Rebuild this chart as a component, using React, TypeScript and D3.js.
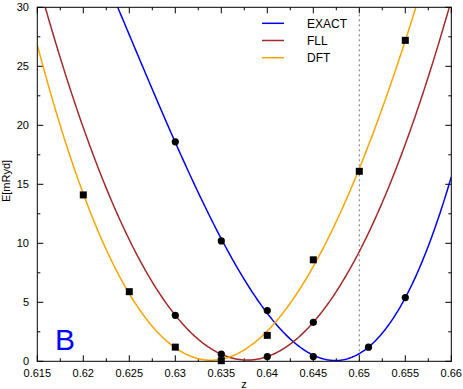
import React from "react";
import * as d3 from "d3";

const zExact = [0.63, 0.635, 0.64, 0.645, 0.651, 0.655];
const eExact = [18.6, 10.2, 4.3, 0.4, 1.2, 5.4];
const zFll = [0.63, 0.635, 0.64, 0.645];
const eFll = [3.9, 0.6, 0.4, 3.3];
const zDft = [0.62, 0.625, 0.63, 0.635, 0.64, 0.645, 0.65, 0.655];
const eDft = [14.1, 5.9, 1.2, 0.05, 2.2, 8.6, 16.1, 27.2];

const xTicks = [0.615, 0.62, 0.625, 0.63, 0.635, 0.64, 0.645, 0.65, 0.655, 0.66];
const xTickLabels = ["0.615", "0.62", "0.625", "0.63", "0.635", "0.64", "0.645", "0.65", "0.655", "0.66"];
const yTicks = [0, 5, 10, 15, 20, 25, 30];
const yTickLabels = ["0", "5", "10", "15", "20", "25", "30"];
const seriesNames = ["EXACT", "FLL", "DFT"];
const seriesColors = ["#0000ff", "#a52a2a", "#ffa500"];
const fitDegrees = [3, 2, 3];
const dashedZ = 0.65;

const W = 463, H = 389;
const L = 37.3, R = 451.3, T = 7.3, B = 361.3;

function polyfit(xs: number[], ys: number[], deg: number) {
  const c = 0.64, s = 100;
  const n = deg + 1;
  const A: number[][] = Array.from({ length: n }, () => new Array(n + 1).fill(0));
  xs.forEach((x0, k) => {
    const x = (x0 - c) * s;
    for (let i = 0; i < n; i++) {
      for (let j = 0; j < n; j++) A[i][j] += Math.pow(x, i + j);
      A[i][n] += Math.pow(x, i) * ys[k];
    }
  });
  for (let i = 0; i < n; i++) {
    let p = i;
    for (let r = i + 1; r < n; r++) if (Math.abs(A[r][i]) > Math.abs(A[p][i])) p = r;
    [A[i], A[p]] = [A[p], A[i]];
    for (let r = 0; r < n; r++) {
      if (r === i) continue;
      const f = A[r][i] / A[i][i];
      for (let col = i; col <= n; col++) A[r][col] -= f * A[i][col];
    }
  }
  const coef = A.map((row, i) => row[n] / row[i]);
  return (x0: number) => {
    const x = (x0 - c) * s;
    return coef.reduce((acc, a, i) => acc + a * Math.pow(x, i), 0);
  };
}

export default function App() {
  const x = d3.scaleLinear().domain([0.615, 0.66]).range([L, R]);
  const y = d3.scaleLinear().domain([0, 30]).range([B, T]);
  const data = [
    { z: zExact, e: eExact, marker: "circle" },
    { z: zFll, e: eFll, marker: "circle" },
    { z: zDft, e: eDft, marker: "square" },
  ];
  const samples = d3.range(0, 401).map((i) => 0.615 + (0.045 * i) / 400);
  const line = d3
    .line<[number, number]>()
    .x((d) => x(d[0]))
    .y((d) => y(d[1]));

  const minorX = d3.range(0, 19).map((i) => 0.615 + i * 0.0025);
  const minorY = d3.range(0, 13).map((i) => i * 2.5);
  const font = "'Liberation Sans', Arial, sans-serif";

  return (
    <div style={{ position: "absolute", left: 0, top: 0 }}>
      <svg width={W} height={H} style={{ display: "block", background: "#fff" }}>
        <defs>
          <clipPath id="plot">
            <rect x={L} y={T} width={R - L} height={B - T} />
          </clipPath>
        </defs>
        {/* dashed line */}
        <line x1={x(dashedZ)} x2={x(dashedZ)} y1={y(0)} y2={y(30)} stroke="#777" strokeWidth={1} strokeDasharray="2,3" />
        {/* ticks */}
        {minorX.map((v, i) => {
          const major = i % 2 === 0;
          const len = major ? 6 : 3;
          return (
            <g key={"tx" + i}>
              <line x1={x(v)} x2={x(v)} y1={B} y2={B - len} stroke="#000" />
              <line x1={x(v)} x2={x(v)} y1={T} y2={T + len} stroke="#000" />
            </g>
          );
        })}
        {minorY.map((v, i) => {
          const major = i % 2 === 0;
          const len = major ? 6 : 3;
          return (
            <g key={"ty" + i}>
              <line x1={L} x2={L + len} y1={y(v)} y2={y(v)} stroke="#000" />
              <line x1={R} x2={R - len} y1={y(v)} y2={y(v)} stroke="#000" />
            </g>
          );
        })}
        {/* curves */}
        <g clipPath="url(#plot)">
          {data.map((d, i) => {
            const f = polyfit(d.z, d.e, fitDegrees[i]);
            const pts = samples.map((z) => [z, Math.min(60, f(z))] as [number, number]);
            return <path key={"c" + i} d={line(pts) || ""} fill="none" stroke={seriesColors[i]} strokeWidth={1.5} />;
          })}
        </g>
        {/* markers */}
        {data.map((d, i) =>
          d.z.map((z, k) =>
            d.marker === "circle" ? (
              <circle key={`m${i}-${k}`} cx={x(z)} cy={y(d.e[k])} r={3.6} fill="#000" />
            ) : (
              <rect key={`m${i}-${k}`} x={x(z) - 3.5} y={y(d.e[k]) - 3.5} width={7} height={7} fill="#000" />
            )
          )
        )}
        {/* frame */}
        <rect x={L} y={T} width={R - L} height={B - T} fill="none" stroke="#000" strokeWidth={1} />
        {/* tick labels */}
        {xTicks.map((v, i) => (
          <text key={"xl" + i} x={x(v)} y={377} textAnchor="middle" fontFamily={font} fontSize={11} fill="#000">
            {xTickLabels[i]}
          </text>
        ))}
        {yTicks.map((v, i) => (
          <text key={"yl" + i} x={29} y={y(v) + 4} textAnchor="end" fontFamily={font} fontSize={11} fill="#000">
            {yTickLabels[i]}
          </text>
        ))}
        <text x={244} y={388} textAnchor="middle" fontFamily={font} fontSize={11}>z</text>
        <text transform={`translate(9.5,181) rotate(-90)`} textAnchor="middle" fontFamily={font} fontSize={11}>
          E[mRyd]
        </text>
        {/* legend */}
        {seriesNames.map((n, i) => (
          <g key={"lg" + i}>
            <line x1={262} x2={284} y1={23.3 + i * 17.2} y2={23.3 + i * 17.2} stroke={seriesColors[i]} strokeWidth={1.5} />
            <text x={307} y={28 + i * 17.2} fontFamily={font} fontSize={12} fill="#000">
              {n}
            </text>
          </g>
        ))}
        <text x={55} y={350} fontFamily={font} fontSize={30} fill="#0000ff">B</text>
      </svg>
    </div>
  );
}
